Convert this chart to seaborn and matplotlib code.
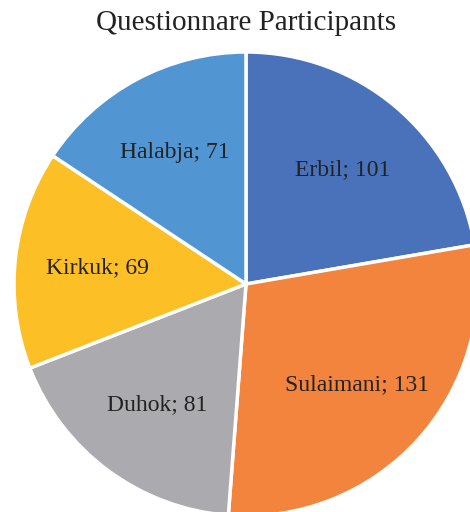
import matplotlib
matplotlib.use("Agg")
import matplotlib.pyplot as plt
import seaborn as sns

regions = ["Erbil", "Sulaimani", "Duhok", "Kirkuk", "Halabja"]
counts = [101, 131, 81, 69, 71]
colors = ["#4A72BB", "#F2843D", "#ABABAF", "#FDBF26", "#5196D3"]

sns.set_style("white")
plt.rcParams["font.family"] = ["Liberation Serif", "DejaVu Serif"]

W, H, DPI = 470, 512, 100
fig = plt.figure(figsize=(W / DPI, H / DPI), dpi=DPI)
ax = fig.add_axes([0, 0, 1, 1])

cx, cy, R = 246, 284, 232
labels_iter = iter([f"{r}; {c}" for r, c in zip(regions, counts)])

wedges, texts, autotexts = ax.pie(
    counts, colors=colors, startangle=90, counterclock=False,
    autopct=lambda p: next(labels_iter), pctdistance=0.645,
    wedgeprops=dict(edgecolor="white", linewidth=2.5),
    textprops=dict(fontsize=17, color="#222222"),
)
ax.set_aspect("equal")
ax.set_xlim(-cx / R, (W - cx) / R)
ax.set_ylim(-(H - cy) / R, cy / R)
ax.axis("off")

fig.text(246 / W, 1 - 23 / H, "Questionnare Participants", ha="center", va="center",
         fontsize=21, color="#222222")

fig.savefig("out.png", dpi=DPI)
